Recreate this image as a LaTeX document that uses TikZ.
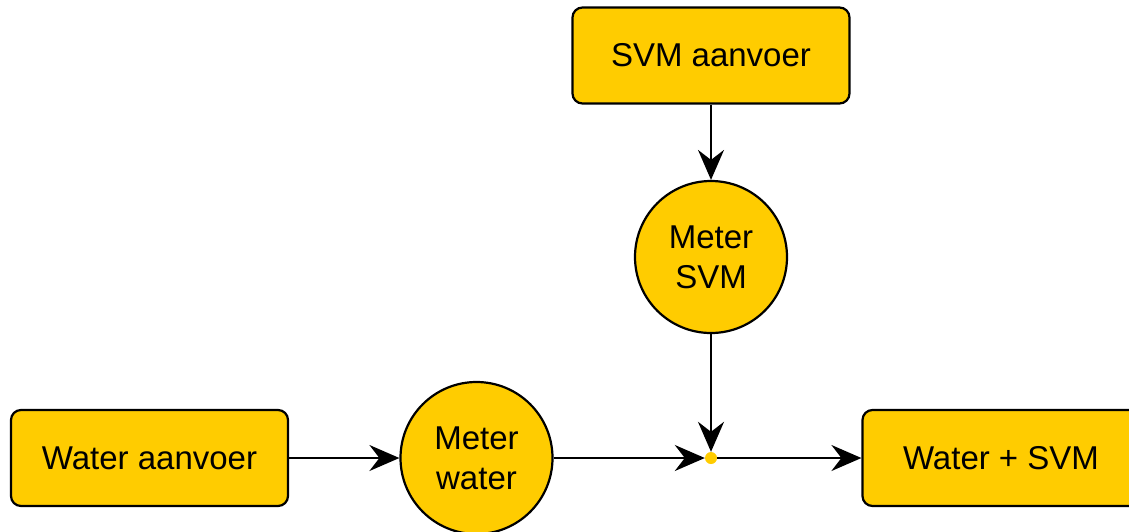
\documentclass[tikz,border=0pt]{standalone}
\usepackage{fontspec}
\setmainfont{Liberation Sans}
\usetikzlibrary{arrows.meta}
\definecolor{gold}{HTML}{FFCC00}
\begin{document}
\begin{tikzpicture}[x=1pt,y=-1pt,
  box/.style={draw=black, fill=gold, line width=2.2pt, rounded corners=10pt,
    minimum width=277pt, minimum height=96pt, inner sep=0pt,
    font=\fontsize{33}{40}\selectfont},
  meter/.style={draw=black, fill=gold, line width=2.2pt, circle,
    minimum size=152pt, inner sep=0pt, align=center,
    font=\fontsize{33}{40}\selectfont},
  conn/.style={line width=2pt, -{Stealth[length=30pt, width=26pt, inset=10pt]}},
  plain/.style={line width=2pt}
]
\useasboundingbox (0,0) rectangle (1129,531);
\node[box] (svma) at (711,55.5) {SVM aanvoer};
\node[meter] (msvm) at (711,257) {Meter\\SVM};
\node[box] (wa) at (149.5,458) {Water aanvoer};
\node[meter] (mw) at (476.5,458) {Meter\\water};
\node[circle, fill=gold, minimum size=12pt, inner sep=0pt] (dot) at (711,458) {};
\node[box] (ws) at (1001,458) {Water + SVM};
\draw[conn] (svma) -- (msvm);
\draw[conn] (msvm) -- (dot);
\draw[conn] (wa) -- (mw);
\draw[conn] (mw) -- (dot);
\draw[conn] (dot) -- (ws);
\end{tikzpicture}
\end{document}
